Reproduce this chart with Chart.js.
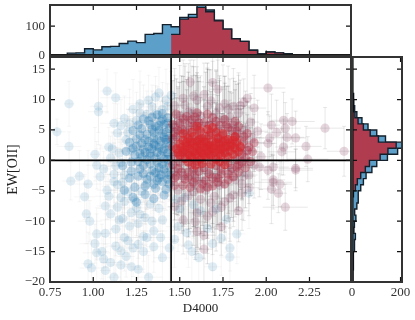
<!DOCTYPE html>
<html>
<head>
<meta charset="utf-8">
<script src="https://cdn.jsdelivr.net/npm/chart.js@4"></script>
<style>
  html, body { margin: 0; background: #fff; }
  #wrap { position: relative; width: 415px; height: 320px; overflow: hidden; }
  canvas { position: absolute; left: 0; top: 0; }
</style>
</head>
<body>
<div id="wrap">
  <canvas id="mainChart" width="415" height="320"></canvas>
  <canvas id="topChart" width="415" height="320"></canvas>
  <canvas id="rightChart" width="415" height="320"></canvas>
</div>
<script>
// histogram bins
const d4000Edges = [0.75,0.80,0.85,0.90,0.95,1.00,1.05,1.10,1.15,1.20,1.25,1.30,1.35,1.40,1.45,1.50,1.55,1.60,1.65,1.70,1.75,1.80,1.85,1.90,1.95,2.00,2.05,2.10,2.15,2.20,2.25,2.30,2.35,2.40,2.45];
const d4000Blue = [1,1,8,9,23,19,30,31,41,49,44,72,75,105,98,130,140,172,155,120,90,57,48,18,5,12,9,6,3,2,2,1,1,1];
const d4000Red = [0,0,0,0,0,0,0,0,0,0,0,0,0,0,72,124,130,164,149,118,90,57,48,18,5,12,9,6,3,2,2,1,1,1];
const ewEdges = [-20,-19,-18,-17,-16,-15,-14,-13,-12,-11,-10,-9,-8,-7,-6,-5,-4,-3,-2,-1,0,1,2,3,4,5,6,7,8,9,10,11,12,13,14,15,16,17];
const ewBlue = [4,4,5,5,7,11,10,14,8,10,16,11,20,25,26,36,47,58,82,102,146,188,208,138,102,66,41,20,11,8,6,4,3,2,1,1,0];
const ewRed = [0,0,0,0,0,0,0,0,1,2,2,3,3,4,6,14,22,36,55,72,116,148,182,109,75,47,25,12,8,6,4,3,2,1,1,1,0];

const xTicksMain = { min: 0.75, max: 2.49, step: 0.25 };
const yTicksMain = { min: -20, max: 17, step: 5 };
const histCountTicks = [0, 200];
const splitD4000 = 1.45;

// [D4000, EW, D4000 err, EW err]
const blueSparse = [
  [0.79,4.7,0.05,2.1],[0.86,9.3,0.03,3.7],[0.86,2.3,0.07,2.4],[1.08,11.4,0.04,3.6],[1.13,10.3,0.09,4.1],[1.03,8.9,0.05,4.3],
  [1.03,8.0,0.06,5.4],[1.12,6.1,0.08,3.3],[1.14,4.5,0.04,4.8],[1.09,2.2,0.05,3.2],[1.11,1.9,0.1,2.8],[1.01,1.0,0.03,4.4],
  [1.02,-0.8,0.06,3.9],[1.06,-1.4,0.04,2.9],[1.22,1.7,0.07,3.6],[1.38,11.1,0.03,4.2],[1.36,10.4,0.08,3.4],[1.42,9.9,0.05,5.1],
  [1.45,10.7,0.06,3.9],[1.25,6.6,0.09,4.6],[1.21,6.0,0.05,5.7],[1.31,7.6,0.04,3.8],[1.36,7.6,0.1,4.7],[0.87,-3.4,0.05,3.1],
  [0.92,-2.6,0.04,4.2],[0.97,-3.9,0.08,5.5],[0.95,-6.0,0.06,3.7],[0.96,-8.8,0.03,4.9],[0.98,-10.0,0.07,3.4],[1.02,-12.1,0.05,4.3],
  [1.07,-12.0,0.04,5.6],[1.01,-13.7,0.09,3.2],[1.08,-4.9,0.06,4.8],[1.07,-7.5,0.05,6.3],[1.10,-8.8,0.04,3.9],[1.15,-9.8,0.11,5.2],
  [1.13,-11.3,0.03,4.4],[1.14,-4.0,0.07,6.1],[1.18,-6.8,0.05,5.4],[1.24,-6.5,0.06,3.6],[1.25,-7.8,0.08,4.9],[1.14,-7.7,0.04,5.8],
  [1.31,-12.7,0.09,6.2],[1.29,-12.5,0.03,4.1],[1.18,-12.7,0.07,5.5],[1.23,-14.4,0.05,4.7],[1.29,-15.0,0.06,3.4],[1.05,-15.0,0.04,4.5],
  [1.02,-15.2,0.08,6.4],[1.06,-16.2,0.05,3.7],[0.97,-17.0,0.04,5.2],[0.99,-17.7,0.07,4.6],[1.07,-18.1,0.03,3.8],[1.22,-17.5,0.05,5.9],
  [1.16,-17.2,0.06,4.2],[1.12,-19.2,0.04,5.1],[1.32,-19.2,0.08,3.6],[1.40,-16.0,0.05,4.4],[1.44,-14.4,0.04,6.7],[1.39,-12.7,0.06,3.9],
  [1.40,-9.8,0.03,5.3],[1.34,-10.0,0.07,4.8],[1.31,-3.9,0.05,4.2],[1.37,-1.9,0.09,3.5],[1.18,-2.4,0.04,5.6],[1.83,-12.1,0.05,4.9],
  [1.77,-9.7,0.04,5.4],[1.71,-8.0,0.07,6.1],[1.79,-14.4,0.03,3.8],[1.79,-15.9,0.06,4.7],[1.69,-17.5,0.05,5.2],[1.61,-16.0,0.04,3.9],
  [1.69,-13.7,0.08,4.4],[1.57,-15.0,0.05,6.3],[1.47,-13.0,0.03,4.6],[1.55,-13.9,0.06,3.7],[1.90,-5.4,0.04,5.8],[1.49,-10.9,0.07,4.1],
  [1.50,-8.0,0.05,3.6],[1.58,-7.3,0.09,5.5],[1.16,-0.4,0.06,4.7],[1.19,3.4,0.05,3.3],[1.17,-9.6,0.04,5.1],[1.21,-10.8,0.08,4.4],
  [1.26,-10.4,0.05,5.7],[1.20,-13.2,0.03,3.9],[1.13,-14.1,0.06,4.8],[1.33,-7.2,0.07,6.0],[1.38,-7.9,0.04,3.8],[1.28,-5.1,0.05,4.3],
  [1.12,-2.3,0.06,5.2],[1.09,-5.9,0.08,3.6],[1.23,8.4,0.04,4.9],[1.18,6.9,0.05,3.7],[1.27,9.3,0.07,5.4],[1.32,9.9,0.03,4.1],
  [1.10,0.4,0.05,3.6],[1.13,-0.9,0.06,4.4],[1.15,1.2,0.04,3.2],[1.17,-3.6,0.07,5.3],[1.20,-5.2,0.05,4.1],[1.22,-8.6,0.06,5.9],
  [1.27,-8.9,0.04,3.7],[1.30,-9.4,0.05,4.6],[1.35,-11.6,0.08,5.1],[1.26,-13.8,0.05,3.8],[1.16,-14.9,0.04,4.9],[1.10,-16.8,0.06,5.5],
  [1.19,-15.8,0.05,3.4],[1.35,-14.2,0.07,4.2],[1.26,-17.9,0.04,4.8],[1.16,-6.1,0.05,3.9],[1.12,-3.5,0.06,4.5],[1.04,-2.7,0.04,5.2],
  [1.20,4.6,0.05,3.8],[1.16,5.7,0.07,4.3],[1.27,7.8,0.04,5.1],[1.34,8.8,0.05,3.6],[1.40,8.4,0.06,4.4],[1.43,8.9,0.04,3.7],
  [1.53,-6.1,0.05,5.2],[1.62,-8.3,0.06,6.4],[1.48,-6.4,0.04,4.7],[1.66,-11.2,0.05,5.8],[1.54,-11.9,0.07,4.3],[1.74,-12.8,0.05,6.1]
];
const blueDense = [
  [1.41,3.8,0.05,3.1],[1.38,2.1,0.07,2.8],[1.43,1.2,0.04,3.9],[1.35,4.6,0.06,3.4],[1.40,-0.6,0.05,2.7],[1.32,3.1,0.08,4.2],
  [1.36,0.4,0.04,3.6],[1.44,5.2,0.06,2.9],[1.30,1.3,0.05,4.8],[1.39,6.4,0.09,3.3],[1.27,4.2,0.06,5.1],[1.42,-2.1,0.04,3.8],
  [1.34,-1.7,0.05,4.4],[1.29,-0.8,0.07,3.2],[1.37,7.5,0.04,4.6],[1.25,2.3,0.06,3.9],[1.43,7.0,0.05,2.6],[1.33,5.9,0.03,3.7],
  [1.22,-0.3,0.08,4.3],[1.26,-2.6,0.05,5.2],[1.40,-3.5,0.06,3.4],[1.31,-3.1,0.04,4.9],[1.44,-3.9,0.07,2.8],[1.36,-4.6,0.05,3.6],
  [1.19,1.5,0.06,4.1],[1.23,4.9,0.04,3.5],[1.29,6.8,0.08,5.6],[1.41,0.2,0.05,2.9],[1.38,-1.2,0.03,3.3],[1.34,1.9,0.06,4.0],
  [1.28,2.8,0.05,3.1],[1.42,2.9,0.07,4.7],[1.37,3.4,0.04,3.6],[1.44,-0.9,0.06,2.5],[1.30,-4.2,0.05,5.3],[1.24,-4.4,0.08,4.2],
  [1.35,-6.3,0.04,3.7],[1.41,-5.7,0.06,4.8],[1.25,-6.9,0.05,5.5],[1.21,-2.9,0.07,3.4],
  [1.42,4.6,0.05,2.9],[1.39,3.1,0.06,3.4],[1.44,2.3,0.04,2.8],[1.36,5.6,0.05,3.7],[1.43,0.1,0.07,3.1],[1.33,0.7,0.05,4.2],
  [1.40,1.6,0.04,3.5],[1.37,-0.4,0.06,2.7],[1.31,4.3,0.05,3.9],[1.38,4.9,0.07,3.2],[1.28,0.5,0.04,4.6],[1.43,-3.1,0.05,3.3],
  [1.35,2.7,0.06,2.9],[1.41,5.9,0.05,3.8],[1.29,1.9,0.04,4.1],[1.33,-2.6,0.07,3.6],[1.39,-2.4,0.05,4.4],[1.27,-1.4,0.06,3.2],
  [1.24,0.9,0.04,4.7],[1.44,3.6,0.05,3.0],[1.40,6.8,0.06,3.5],[1.34,7.1,0.04,4.3],[1.26,5.8,0.05,3.7],[1.21,3.0,0.07,4.2],
  [1.17,-0.9,0.05,3.6],[1.30,-5.6,0.06,4.9],[1.42,-4.8,0.04,3.4],[1.37,-3.3,0.05,4.0],[1.18,-4.9,0.07,5.1],[1.23,-6.1,0.05,3.9],
  [1.41,1.9,0.05,3.2],[1.39,0.8,0.06,3.7],[1.44,0.8,0.04,2.9],[1.37,1.3,0.05,3.3],[1.35,3.7,0.07,4.1],[1.42,3.4,0.04,3.6],
  [1.32,2.2,0.05,3.0],[1.30,3.4,0.06,4.5],[1.38,5.7,0.05,2.8],[1.34,5.1,0.04,3.9],[1.40,4.4,0.06,3.4],[1.43,6.1,0.05,3.1],
  [1.36,2.4,0.04,4.2],[1.33,-0.6,0.06,3.7],[1.41,-1.4,0.05,2.9],[1.31,0.1,0.04,3.4],[1.29,-2.2,0.07,4.6],[1.38,-2.9,0.05,3.2],
  [1.35,-3.9,0.06,4.3],[1.27,1.1,0.04,3.6],[1.25,3.5,0.05,4.8],[1.32,6.5,0.06,3.3],[1.28,5.2,0.05,4.0],[1.44,-2.4,0.04,3.5],
  [1.26,-0.2,0.06,3.9],[1.23,2.0,0.05,4.4],[1.40,7.7,0.04,3.2],[1.36,-2.0,0.05,2.7],[1.33,1.2,0.06,3.8],[1.22,-1.8,0.05,4.2]
];
const redSparse = [
  [2.11,-7.7,0.13,3.8],[1.84,-8.3,0.06,5.1],[1.74,-10.9,0.04,4.7],[1.64,-12.3,0.07,3.9],[1.64,-14.6,0.05,5.6],[1.52,-9.8,0.04,4.3],
  [1.59,-10.1,0.08,5.4],[1.60,-11.7,0.05,3.6],[2.08,-3.9,0.07,3.7],[2.04,-3.6,0.11,4.4],[2.07,-5.4,0.05,3.2],[2.03,-4.7,0.08,5.7],
  [1.90,-4.5,0.06,4.6],[2.17,-1.6,0.1,3.4],[2.01,-1.6,0.05,4.8],[2.04,-1.1,0.09,3.9],[1.81,-5.7,0.05,5.2],[1.68,-7.0,0.07,4.3],
  [2.01,11.9,0.1,4.4],[1.56,12.9,0.08,3.6],[1.69,12.8,0.04,5.2],[1.52,10.2,0.06,6.3],[1.72,11.7,0.05,4.8],[1.60,9.9,0.09,5.5],
  [1.89,10.2,0.05,6.7],[1.87,9.5,0.04,3.9],[1.93,8.6,0.07,5.4],[1.85,9.0,0.06,4.2],[1.47,9.0,0.05,6.1],[2.10,6.6,0.07,4.6],
  [2.15,6.4,0.13,3.7],[2.03,5.8,0.05,5.1],[2.11,5.3,0.09,4.2],[2.34,5.3,0.11,3.4],[1.91,6.3,0.05,4.7],[2.06,4.6,0.07,5.3],
  [2.12,3.8,0.1,3.9],[2.17,3.7,0.06,4.4],[2.02,3.7,0.08,3.6],[2.01,2.8,0.05,5.2],[1.92,3.7,0.07,4.8],[2.23,2.3,0.09,3.3],
  [2.10,2.2,0.05,4.6],[2.09,1.4,0.08,3.8],[2.45,1.5,0.1,4.1],[1.97,0.6,0.06,5.4],[2.24,0.2,0.12,3.7],[2.17,-1.3,0.1,3.2],
  [1.96,-1.1,0.05,4.9],[2.04,-3.2,0.07,4.2],[1.55,-5.8,0.05,5.6],[1.62,-6.4,0.06,8.1],[1.70,-5.9,0.04,7.2],[1.76,-6.8,0.07,6.3],
  [1.66,-9.2,0.05,7.8],[1.49,-4.9,0.06,6.4],[1.73,-4.1,0.08,9.4],[1.58,-3.8,0.04,10.2],[1.82,-3.2,0.05,6.1],[1.87,-2.6,0.07,7.3],
  [1.93,-0.8,0.06,5.4],[1.84,7.8,0.05,6.6],[1.78,8.4,0.08,7.1],[1.66,8.9,0.04,6.3],[1.57,8.1,0.06,7.4],[1.50,7.4,0.05,8.2],
  [1.64,10.8,0.07,5.2],[1.75,6.9,0.05,8.8],[1.55,6.6,0.04,9.3],[1.69,6.2,0.06,10.1],[1.81,5.8,0.05,7.7],[1.88,5.2,0.07,6.2],
  [1.47,5.4,0.05,8.6],[1.60,5.9,0.03,11.3],[1.72,5.1,0.06,12.2],[1.53,4.8,0.05,10.7],[1.84,4.4,0.04,9.6],[1.66,-1.9,0.05,13.4],
  [1.52,-2.6,0.07,12.8],[1.79,-1.7,0.04,11.6],[1.47,-1.8,0.05,9.7],[1.59,-2.4,0.06,13.9],[1.71,-2.8,0.05,12.1],
  [1.51,-6.7,0.05,5.3],[1.58,-5.1,0.06,7.4],[1.65,-4.9,0.04,6.8],[1.74,-7.7,0.05,5.9],[1.79,-6.2,0.07,4.9],[1.86,-5.4,0.05,6.1],
  [1.47,-7.6,0.04,5.7],[1.69,-8.4,0.06,7.1],[1.60,-8.6,0.05,6.4],[1.55,7.9,0.04,5.8],[1.62,7.3,0.06,6.6],[1.71,7.7,0.05,7.2],
  [1.79,7.1,0.04,6.3],[1.49,6.4,0.07,5.4],[1.68,9.8,0.05,5.1],[1.76,9.3,0.06,4.6],[1.58,10.6,0.04,5.9],[1.81,8.9,0.05,6.2],
  [1.95,4.8,0.06,5.1],[1.90,-2.4,0.05,4.7],[1.86,-3.9,0.04,5.8],[1.73,8.6,0.07,4.9],[1.53,9.1,0.05,6.8],[1.63,-3.4,0.04,9.7]
];
const redMid = [
  [1.48,3.9,0.05,6.4],[1.54,4.4,0.04,7.2],[1.61,4.9,0.06,8.1],[1.68,4.6,0.05,6.7],[1.75,4.2,0.07,7.9],[1.82,3.8,0.05,9.2],
  [1.87,3.1,0.04,5.8],[1.90,2.2,0.06,6.6],[1.86,1.1,0.05,7.4],[1.83,0.2,0.07,8.3],[1.78,-0.4,0.04,9.6],[1.71,-0.9,0.05,10.4],
  [1.64,-1.2,0.06,11.2],[1.57,-0.7,0.05,9.1],[1.50,-0.3,0.04,8.2],[1.47,0.8,0.06,7.3],[1.46,2.2,0.05,6.1],[1.51,5.2,0.07,8.7],
  [1.58,5.6,0.04,9.8],[1.65,3.9,0.05,10.6],[1.72,3.6,0.06,7.1],[1.79,2.9,0.05,8.4],[1.85,2.1,0.04,6.9],[1.88,0.4,0.07,5.7],
  [1.80,4.9,0.05,6.2],[1.74,-1.4,0.06,9.1],[1.67,-2.2,0.04,8.6],[1.55,-1.9,0.05,10.7],[1.49,-1.4,0.07,7.6],[1.62,3.5,0.05,6.8],
  [1.92,1.4,0.06,5.3],[1.84,-0.6,0.04,7.7],[1.47,4.6,0.05,6.4],[1.56,3.2,0.06,8.9],[1.69,0.6,0.05,12.4],[1.76,1.4,0.07,11.3],
  [1.60,-0.2,0.04,14.1],[1.52,1.1,0.05,12.7],[1.66,2.4,0.06,13.6],[1.73,2.9,0.05,10.2],
  [1.48,-2.6,0.05,6.3],[1.53,-3.1,0.04,7.4],[1.59,-2.9,0.06,8.2],[1.65,-3.3,0.05,6.9],[1.72,-2.9,0.04,7.7],[1.78,-2.3,0.06,6.4],
  [1.84,-1.9,0.05,5.8],[1.88,-1.2,0.04,6.6],[1.47,-4.1,0.06,5.7],[1.56,-4.4,0.05,6.8],[1.62,-4.7,0.04,7.3],[1.69,-4.2,0.07,6.2],
  [1.76,-3.9,0.05,7.9],[1.50,6.1,0.04,6.7],[1.57,6.7,0.06,7.2],[1.64,6.2,0.05,5.9],[1.71,6.4,0.04,8.3],[1.77,5.8,0.06,6.4],
  [1.84,5.6,0.05,7.1],[1.89,4.4,0.04,5.3],[1.48,7.6,0.05,5.8],[1.54,7.2,0.06,6.1],[1.66,7.6,0.05,7.4],[1.60,7.8,0.04,6.6],
  [1.93,2.9,0.06,4.7],[1.91,-0.2,0.05,5.6],[1.82,6.4,0.04,5.2],[1.58,-1.6,0.06,9.3],[1.80,-1.3,0.05,8.1],[1.46,5.9,0.04,7.2],
  [1.51,-1.9,0.05,8.4],[1.55,-2.8,0.06,7.6],[1.61,-1.8,0.04,9.2],[1.63,-3.9,0.05,6.8],[1.69,-2.9,0.06,8.1],[1.74,-2.2,0.05,9.4],
  [1.81,-2.7,0.04,7.3],[1.86,-0.3,0.06,6.2],[1.89,1.6,0.05,5.9],[1.87,3.9,0.04,6.4],[1.83,4.8,0.05,7.7],[1.78,5.4,0.06,6.8],
  [1.73,5.7,0.04,8.2],[1.67,5.8,0.05,9.1],[1.61,6.2,0.06,7.4],[1.55,5.7,0.04,8.8],[1.49,4.9,0.05,7.2],[1.46,3.6,0.06,6.5],
  [1.46,-0.7,0.05,6.9],[1.47,-2.9,0.04,5.8],[1.52,-4.1,0.06,6.7],[1.58,-3.6,0.05,7.3],[1.66,-4.4,0.04,8.4],[1.72,-3.6,0.06,7.0],
  [1.78,-3.2,0.05,6.3],[1.83,-1.1,0.04,7.8],[1.52,6.8,0.05,6.2],[1.59,7.1,0.06,6.9],[1.69,7.0,0.05,5.7],[1.76,6.7,0.04,7.1]
];
const redCore = [
  [1.48,1.9,0.04,2.6],[1.50,0.8,0.05,3.1],[1.50,2.7,0.04,2.4],[1.52,1.4,0.06,2.9],[1.52,3.3,0.05,3.4],[1.53,0.3,0.04,2.7],
  [1.54,2.3,0.05,3.2],[1.55,1.1,0.06,2.5],[1.55,3.6,0.04,3.0],[1.56,1.9,0.05,2.8],[1.57,0.5,0.04,3.5],[1.57,2.9,0.06,2.6],
  [1.58,1.4,0.05,3.1],[1.58,3.9,0.04,2.9],[1.59,2.2,0.05,2.4],[1.60,0.9,0.06,3.3],[1.60,3.1,0.04,2.7],[1.61,1.7,0.05,3.0],
  [1.62,2.6,0.04,2.5],[1.62,0.2,0.06,3.6],[1.63,3.6,0.05,2.9],[1.63,1.2,0.04,2.6],[1.64,2.1,0.05,3.2],[1.65,0.6,0.04,2.8],
  [1.65,3.0,0.06,3.4],[1.66,1.6,0.05,2.5],[1.67,2.5,0.04,3.0],[1.67,4.1,0.05,2.7],[1.68,0.9,0.06,3.3],[1.68,1.9,0.04,2.6],
  [1.69,3.2,0.05,2.9],[1.70,1.3,0.04,3.5],[1.70,2.4,0.06,2.4],[1.71,0.2,0.05,3.1],[1.72,3.7,0.04,2.8],[1.72,1.7,0.05,3.2],
  [1.73,2.6,0.06,2.6],[1.74,0.8,0.04,3.0],[1.74,1.9,0.05,2.7],[1.75,3.0,0.04,3.4],[1.76,1.2,0.05,2.5],[1.77,2.3,0.06,3.1],
  [1.78,0.5,0.04,2.9],[1.78,3.4,0.05,2.6],[1.79,1.6,0.04,3.3],[1.80,2.5,0.05,2.8],[1.81,1.0,0.06,3.0],[1.82,2.0,0.04,2.5],
  [1.83,3.0,0.05,3.2],[1.84,1.4,0.04,2.7],[1.49,1.2,0.05,2.8],[1.51,2.1,0.04,3.1],[1.53,1.8,0.05,2.6],[1.54,3.0,0.06,2.9],
  [1.56,0.8,0.04,3.4],[1.56,2.6,0.05,2.5],[1.59,1.0,0.06,3.0],[1.60,2.3,0.04,2.7],[1.61,3.4,0.05,3.3],[1.62,1.5,0.04,2.6],
  [1.64,0.9,0.05,3.1],[1.64,3.0,0.06,2.8],[1.66,2.2,0.04,2.4],[1.67,1.0,0.05,3.5],[1.69,2.0,0.04,2.9],[1.71,2.9,0.05,2.6],
  [1.73,1.2,0.06,3.2],[1.75,2.0,0.04,2.7],[1.76,3.3,0.05,3.0],[1.79,2.3,0.04,2.5],[1.81,3.3,0.05,2.9],[1.85,2.3,0.06,3.1],
  [1.55,-0.3,0.05,3.4],[1.59,-0.8,0.04,3.9],[1.63,-0.5,0.06,3.1],[1.68,-0.6,0.05,3.6],[1.73,-0.2,0.04,3.2],[1.76,-0.7,0.05,3.8],
  [1.52,4.4,0.05,3.2],[1.57,4.6,0.06,3.6],[1.62,4.8,0.04,3.1],[1.66,5.1,0.05,3.4],[1.71,4.6,0.06,3.9],[1.75,4.4,0.04,3.3],
  [1.60,5.6,0.05,3.7],[1.69,5.4,0.04,4.1],[1.82,3.9,0.05,3.2]
];

const serif = '"Liberation Serif", serif';

// error bars drawn through the chart's scales, under the markers
const errorBars = {
  id: 'errorBars',
  beforeDatasetsDraw(chart) {
    const { ctx, chartArea: a, scales: { x, y } } = chart;
    ctx.save();
    ctx.beginPath();
    ctx.rect(a.left, a.top, a.width, a.height);
    ctx.clip();
    ctx.lineWidth = 1;
    const groups = [[blueSparse, 'rgba(130,130,130,0.07)'], [blueDense, 'rgba(130,130,130,0.09)'], [redSparse, 'rgba(110,110,110,0.16)'], [redMid, 'rgba(110,110,110,0.26)'], [redCore, 'rgba(110,110,110,0.2)']];
    groups.forEach(([points, color]) => {
      ctx.strokeStyle = color;
      ctx.beginPath();
      points.forEach(p => {
        const px = x.getPixelForValue(p[0]), py = y.getPixelForValue(p[1]);
        const x0 = x.getPixelForValue(p[0] - p[2]), x1 = x.getPixelForValue(p[0] + p[2]);
        const y0 = y.getPixelForValue(p[1] - p[3]), y1 = y.getPixelForValue(p[1] + p[3]);
        ctx.moveTo(x0, py); ctx.lineTo(x1, py);
        ctx.moveTo(px, y0); ctx.lineTo(px, y1);
        ctx.moveTo(px - 2, y0); ctx.lineTo(px + 2, y0);
        ctx.moveTo(px - 2, y1); ctx.lineTo(px + 2, y1);
      });
      ctx.stroke();
    });
    ctx.restore();
  }
};

// matplotlib style frame: ticks pointing in on all four sides
const frame = {
  id: 'frame',
  afterDraw(chart) {
    const { ctx, chartArea: a, scales: { x, y } } = chart;
    ctx.save();
    ctx.strokeStyle = '#111';
    ctx.lineWidth = 1.2;
    ctx.beginPath();
    x.ticks.forEach(t => {
      const px = x.getPixelForValue(t.value);
      ctx.moveTo(px, a.top); ctx.lineTo(px, a.top + 5);
      ctx.moveTo(px, a.bottom); ctx.lineTo(px, a.bottom - 5);
    });
    y.ticks.forEach(t => {
      const py = y.getPixelForValue(t.value);
      ctx.moveTo(a.left, py); ctx.lineTo(a.left + 5, py);
      ctx.moveTo(a.right, py); ctx.lineTo(a.right - 5, py);
    });
    ctx.stroke();
    ctx.strokeStyle = '#333';
    ctx.lineWidth = 2;
    ctx.strokeRect(a.left, a.top, a.width, a.height);
    ctx.restore();
  }
};

function fixedSize(w, h) {
  return scale => {
    if (scale.isHorizontal()) scale.height = h;
    else scale.width = w;
    // stop tick labels pushing the plot area in
    scale.paddingTop = scale.paddingBottom = scale.paddingLeft = scale.paddingRight = 0;
  };
}

const noGrid = { display: false, drawTicks: false };
const noBorder = { display: false };

function tickFont() {
  return { family: serif, size: 13 };
}

function pointsOf(list) {
  return list.map(p => ({ x: p[0], y: p[1] }));
}

function scatterSet(list, color, radius, order) {
  return { type: 'scatter', data: pointsOf(list), backgroundColor: color, borderWidth: 0, pointRadius: radius, pointHoverRadius: radius, order: order };
}

function refLine(data, width) {
  return { type: 'line', data: data, borderColor: '#000', borderWidth: width, pointRadius: 0, fill: false, tension: 0, order: 0 };
}

// outline of a histogram: two points per bin
function outlineX(edges, counts) {
  const out = [];
  counts.forEach((c, i) => { out.push({ x: edges[i], y: c }); out.push({ x: edges[i + 1], y: c }); });
  return out;
}
function outlineY(edges, counts) {
  const out = [];
  counts.forEach((c, i) => { out.push({ y: edges[i], x: c }); out.push({ y: edges[i + 1], x: c }); });
  return out;
}
function histSet(data, fill, edge, order) {
  return { type: 'line', data: data, backgroundColor: fill, borderColor: edge, borderWidth: 1.4, pointRadius: 0, fill: 'origin', tension: 0, order: order };
}

const blueFill = 'rgb(92,160,202)';
const redFill = 'rgb(176,60,80)';
const histEdge = '#14202c';

new Chart(document.getElementById('mainChart'), {
  type: 'scatter',
  data: {
    datasets: [
      scatterSet(blueSparse, 'rgba(31,119,180,0.14)', 4.6, 5),
      scatterSet(blueDense, 'rgba(31,119,180,0.3)', 4.6, 4),
      scatterSet(redSparse, 'rgba(130,50,85,0.2)', 4.6, 3),
      scatterSet(redMid, 'rgba(175,45,70,0.4)', 4.6, 2),
      scatterSet(redCore, 'rgba(214,39,45,0.62)', 4.6, 1),
      refLine([{ x: splitD4000, y: yTicksMain.min }, { x: splitD4000, y: yTicksMain.max }], 1.6),
      refLine([{ x: xTicksMain.min, y: 0 }, { x: xTicksMain.max, y: 0 }], 1.6)
    ]
  },
  plugins: [errorBars, frame],
  options: {
    responsive: false,
    animation: false,
    layout: { padding: { top: 57, right: 64, left: 0, bottom: 0 } },
    plugins: { legend: { display: false }, tooltip: { enabled: false } },
    scales: {
      x: {
        type: 'linear', min: xTicksMain.min, max: xTicksMain.max,
        grid: noGrid, border: noBorder,
        afterFit: fixedSize(50, 38),
        title: { display: true, text: 'D4000', color: '#222', font: { family: serif, size: 13 }, padding: { top: 0, bottom: 4 } },
        ticks: { stepSize: xTicksMain.step, includeBounds: false, autoSkip: false, maxRotation: 0, padding: 3, color: '#333', font: tickFont(), callback: v => v.toFixed(2) }
      },
      y: {
        type: 'linear', min: yTicksMain.min, max: yTicksMain.max,
        grid: noGrid, border: noBorder,
        afterFit: fixedSize(50, 38),
        title: { display: true, text: 'EW[OII]', color: '#222', font: { family: serif, size: 14 }, padding: { top: 5, bottom: 0 } },
        ticks: { stepSize: yTicksMain.step, includeBounds: false, padding: 5, color: '#333', font: tickFont(), callback: v => String(v).replace('-', '\u2212') }
      }
    }
  }
});

new Chart(document.getElementById('topChart'), {
  type: 'line',
  data: {
    datasets: [
      histSet(outlineX(d4000Edges, d4000Blue), blueFill, histEdge, 2),
      histSet(outlineX(d4000Edges.slice(14), d4000Red.slice(14)), redFill, histEdge, 1),
      refLine([{ x: xTicksMain.min, y: 0 }, { x: xTicksMain.max, y: 0 }], 3)
    ]
  },
  plugins: [frame],
  options: {
    responsive: false,
    animation: false,
    layout: { padding: { top: 5, right: 64, left: 0, bottom: 264.5 } },
    plugins: { legend: { display: false }, tooltip: { enabled: false } },
    scales: {
      x: {
        type: 'linear', min: xTicksMain.min, max: xTicksMain.max,
        grid: noGrid, border: noBorder,
        afterFit: fixedSize(50, 0),
        ticks: { display: false, stepSize: xTicksMain.step, includeBounds: false }
      },
      y: {
        type: 'linear', min: 0, max: 172,
        grid: noGrid, border: noBorder,
        afterFit: fixedSize(50, 0),
        ticks: { stepSize: 100, includeBounds: false, padding: 5, color: '#333', font: tickFont() }
      }
    }
  }
});

new Chart(document.getElementById('rightChart'), {
  type: 'line',
  data: {
    datasets: [
      histSet(outlineY(ewEdges, ewBlue), blueFill, histEdge, 2),
      histSet(outlineY(ewEdges, ewRed), redFill, histEdge, 1),
      refLine([{ x: 0, y: yTicksMain.min }, { x: 0, y: yTicksMain.max }], 3)
    ]
  },
  plugins: [frame],
  options: {
    responsive: false,
    animation: false,
    indexAxis: 'y',
    layout: { padding: { top: 57, right: 13, left: 352, bottom: 0 } },
    plugins: { legend: { display: false }, tooltip: { enabled: false } },
    scales: {
      x: {
        type: 'linear', min: 0, max: 206,
        grid: noGrid, border: noBorder,
        afterFit: fixedSize(0, 38),
        afterBuildTicks: scale => { scale.ticks = histCountTicks.map(v => ({ value: v })); },
        ticks: { autoSkip: false, maxRotation: 0, padding: 3, color: '#333', font: tickFont() }
      },
      y: {
        type: 'linear', min: yTicksMain.min, max: yTicksMain.max,
        grid: noGrid, border: noBorder,
        afterFit: fixedSize(0, 38),
        ticks: { display: false, stepSize: yTicksMain.step, includeBounds: false }
      }
    }
  }
});
</script>
</body>
</html>
